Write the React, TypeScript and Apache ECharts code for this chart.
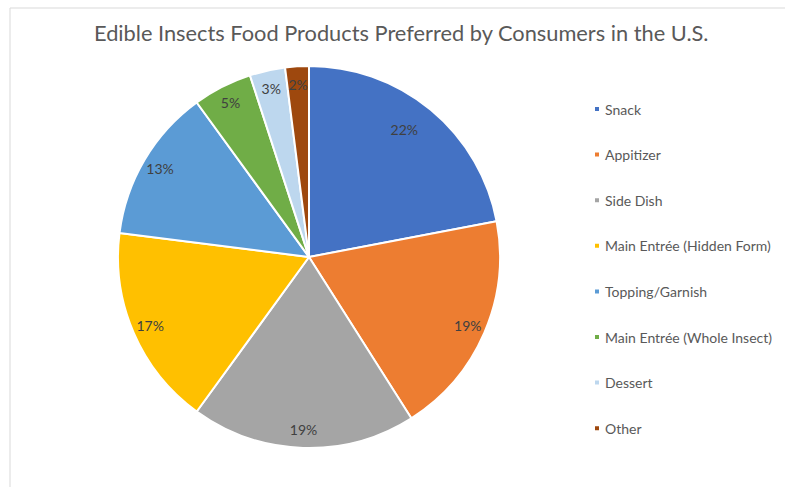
import React, { useEffect, useRef } from "react";
import * as echarts from "echarts";

const titleText = "Edible Insects Food Products Preferred by Consumers in the U.S.";
const categories = [
  "Snack",
  "Appitizer",
  "Side Dish",
  "Main Entrée (Hidden Form)",
  "Topping/Garnish",
  "Main Entrée (Whole Insect)",
  "Dessert",
  "Other",
];
const shares = [22, 19, 19, 17, 13, 5, 3, 2];
const colors = ["#4472C4", "#ED7D31", "#A5A5A5", "#FFC000", "#5B9BD5", "#70AD47", "#BDD7EE", "#9E480E"];

export default function App() {
  const ref = useRef<HTMLDivElement>(null);
  useEffect(() => {
    if (!ref.current) return;
    const chart = echarts.init(ref.current, null, { renderer: "svg" });
    const data = categories.map((name, i) => ({ name, value: shares[i], itemStyle: { color: colors[i] } }));
    const center = [309, 257];
    chart.setOption({
      animation: false,
      backgroundColor: "#ffffff",
      title: {
        text: titleText,
        left: 94,
        top: 21,
        padding: 0,
        textStyle: { fontFamily: "Lato", fontSize: 21.8, fontWeight: "normal", color: "#595959" },
      },
      legend: {
        orient: "vertical",
        left: 593,
        top: 102,
        padding: 0,
        icon: "rect",
        itemWidth: 6,
        itemHeight: 6,
        itemGap: 31.6,
        selectedMode: false,
        data: categories,
        textStyle: { fontFamily: "Lato", fontSize: 14, color: "#595959", lineHeight: 14 },
      },
      graphic: [
        {
          type: "rect",
          shape: { x: 10, y: 8, width: 900, height: 600 },
          style: { fill: "none", stroke: "#d9d9d9", lineWidth: 1 },
          silent: true,
        },
      ],
      series: [
        {
          type: "pie",
          center,
          radius: [0, 191],
          startAngle: 90,
          clockwise: true,
          data,
          label: { show: false },
          labelLine: { show: false },
          itemStyle: { borderColor: "#ffffff", borderWidth: 2 },
          emphasis: { disabled: true },
        },
        {
          type: "pie",
          center,
          radius: [150, 190],
          startAngle: 90,
          clockwise: true,
          silent: true,
          legendHoverLink: false,
          data: categories.map((name, i) => ({ name: name + " ", value: shares[i] })),
          itemStyle: { color: "rgba(0,0,0,0)" },
          label: {
            show: true,
            position: "inside",
            formatter: (p: any) => p.value + "%",
            fontFamily: "Lato",
            fontSize: 14,
            color: "#404040",
          },
          labelLayout: (p: any) => (p.dataIndex === 0 ? { dx: -15, dy: 6 } : {}),
          labelLine: { show: false },
          emphasis: { disabled: true },
        },
      ],
    });
    return () => chart.dispose();
  }, []);
  return <div ref={ref} style={{ position: "absolute", left: 0, top: 0, width: 785, height: 487 }} />;
}
